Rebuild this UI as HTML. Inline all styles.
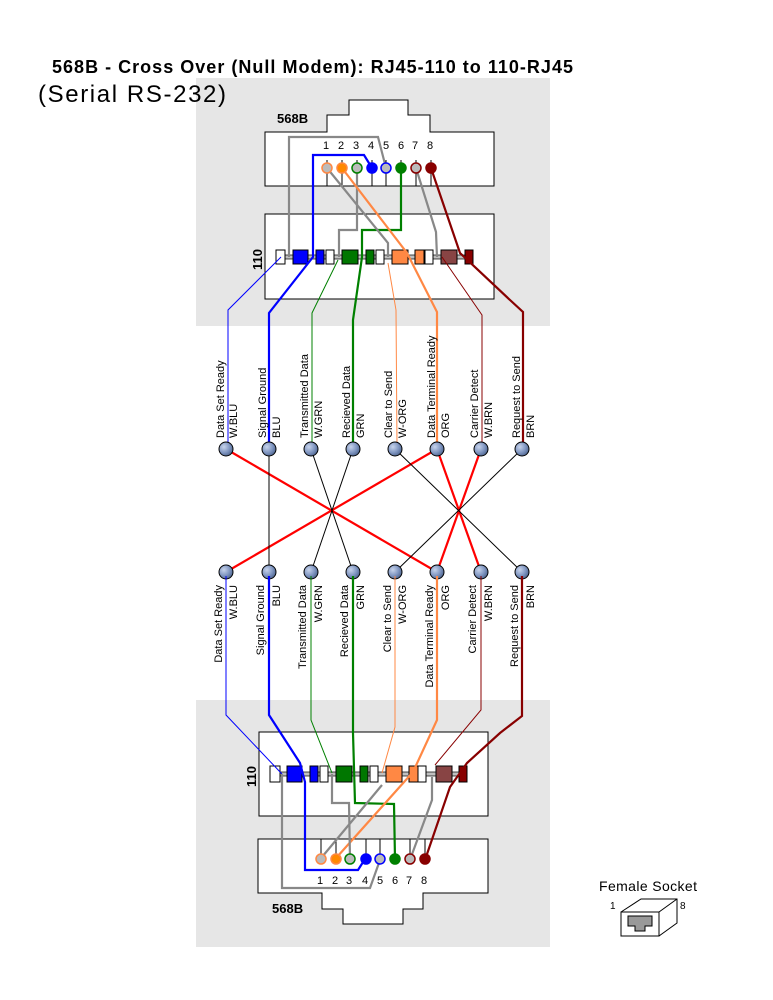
<!DOCTYPE html>
<html><head><meta charset="utf-8"><style>
html,body{margin:0;padding:0;background:#fff;}
svg{display:block;font-family:"Liberation Sans",Arial,sans-serif;}
</style></head><body>
<svg width="773" height="1000" viewBox="0 0 773 1000" xmlns="http://www.w3.org/2000/svg">
<defs>
<radialGradient id="ng" cx="0.35" cy="0.35" r="0.7">
<stop offset="0" stop-color="#c8d4ec"/><stop offset="0.6" stop-color="#7f95c0"/><stop offset="1" stop-color="#4f6690"/>
</radialGradient>
</defs>
<rect x="196" y="78" width="354" height="248" fill="#e6e6e6"/>
<rect x="196" y="700" width="354" height="247" fill="#e6e6e6"/>
<text x="52" y="73" font-size="18" font-weight="bold" textLength="521" lengthAdjust="spacing">568B - Cross Over (Null Modem): RJ45-110 to 110-RJ45</text>
<text x="38" y="102" font-size="24" textLength="188" lengthAdjust="spacing">(Serial RS-232)</text>

<!-- TOP RJ45 -->
<path d="M265,186 L265,132 L327,132 L327,115 L349,115 L349,100 L408,100 L408,115 L430,115 L430,132 L494,132 L494,186 Z" fill="#fff" stroke="#000"/>
<text x="277" y="123" font-size="13" font-weight="bold">568B</text>
<g font-size="11" text-anchor="middle">
<text x="326" y="149">1</text><text x="341" y="149">2</text><text x="356" y="149">3</text><text x="371" y="149">4</text><text x="386" y="149">5</text><text x="401" y="149">6</text><text x="415" y="149">7</text><text x="430" y="149">8</text>
</g>
<g stroke="#000" stroke-width="1">
<line x1="327" y1="160" x2="327" y2="186"/><line x1="342" y1="160" x2="342" y2="186"/><line x1="357" y1="160" x2="357" y2="186"/><line x1="372" y1="160" x2="372" y2="186"/><line x1="386" y1="160" x2="386" y2="186"/><line x1="401" y1="160" x2="401" y2="186"/><line x1="416" y1="160" x2="416" y2="186"/><line x1="431" y1="160" x2="431" y2="186"/>
</g>
<!-- TOP 110 -->
<rect x="265" y="214" width="229" height="85" fill="#fff" stroke="#000"/>
<text transform="translate(262,270) rotate(-90)" font-size="13" font-weight="bold">110</text>
<rect x="276" y="255" width="197" height="4" fill="#c0c0c0" stroke="#000" stroke-width="0.7"/>
<g stroke="#000" stroke-width="1">
<rect x="276" y="250" width="9" height="14" fill="#fff"/>
<rect x="293" y="250" width="15" height="14" fill="#0000ff"/>
<rect x="316" y="250" width="8" height="14" fill="#0000ff"/>
<rect x="326" y="250" width="8" height="14" fill="#fff"/>
<rect x="342" y="250" width="16" height="14" fill="#007700"/>
<rect x="366" y="250" width="8" height="14" fill="#007700"/>
<rect x="376" y="250" width="8" height="14" fill="#fff"/>
<rect x="392" y="250" width="16" height="14" fill="#ff8844"/>
<rect x="415" y="250" width="9" height="14" fill="#ff8844"/>
<rect x="425" y="250" width="8" height="14" fill="#fff"/>
<rect x="441" y="250" width="16" height="14" fill="#884444"/>
<rect x="465" y="250" width="8" height="14" fill="#880000"/>
</g>
<!-- top wires -->
<g fill="none" stroke-width="2.2">
<polyline points="386,168 378,137 289,137 289,257" stroke="#888"/>
<polyline points="372,168 364,155 313,155 313,257 269,313 269,445" stroke="#0000ff"/>
<polyline points="357,168 357,230 339,230 339,257" stroke="#888"/>
<polyline points="401,168 401,230 362,230 362,257 353,320 353,445" stroke="#008000"/>
<polyline points="327,168 388,243 388,257" stroke="#888"/>
<polyline points="342,168 407,253 437,312 437,445" stroke="#ff8844"/>
<polyline points="416,168 436,232 437,257" stroke="#888"/>
<polyline points="431,168 460,253 510,300 523,312 523,445" stroke="#880000"/>
</g>
<g fill="none" stroke-width="1">
<polyline points="281,257 228,310 228,445" stroke="#0000ff"/>
<polyline points="338,260 312,313 312,445" stroke="#008000"/>
<polyline points="388,263 396,310 397,445" stroke="#ff8844"/>
<polyline points="442,257 482,315 482,445" stroke="#880000"/>
</g>
<g fill="#fff" stroke-width="1.5">
<circle cx="327" cy="168" r="5" fill="#bbb" stroke="#ff8844"/>
<circle cx="342" cy="168" r="5" fill="#ff8800" stroke="#ff8844"/>
<circle cx="357" cy="168" r="5" fill="#bbb" stroke="#008000"/>
<circle cx="372" cy="168" r="5" fill="#0000ff" stroke="#0000ff"/>
<circle cx="386" cy="168" r="5" fill="#bbb" stroke="#0000ff"/>
<circle cx="401" cy="168" r="5" fill="#008000" stroke="#008000"/>
<circle cx="416" cy="168" r="5" fill="#bbb" stroke="#880000"/>
<circle cx="431" cy="168" r="5" fill="#880000" stroke="#880000"/>
</g>

<!-- crossings -->
<g stroke="#ff0000" stroke-width="2.2">
<line x1="226" y1="449" x2="437" y2="572"/>
<line x1="437" y1="449" x2="226" y2="572"/>
<line x1="437" y1="449" x2="481" y2="572"/>
<line x1="481" y1="449" x2="437" y2="572"/>
</g>
<g stroke="#000" stroke-width="1">
<line x1="269" y1="449" x2="269" y2="572"/>
<line x1="311" y1="449" x2="353" y2="572"/>
<line x1="353" y1="449" x2="311" y2="572"/>
<line x1="395" y1="449" x2="522" y2="572"/>
<line x1="522" y1="449" x2="395" y2="572"/>
</g>
<g fill="url(#ng)" stroke="#000" stroke-width="1">
<circle cx="226" cy="449" r="7"/><circle cx="269" cy="449" r="7"/><circle cx="311" cy="449" r="7"/><circle cx="353" cy="449" r="7"/><circle cx="395" cy="449" r="7"/><circle cx="437" cy="449" r="7"/><circle cx="481" cy="449" r="7"/><circle cx="522" cy="449" r="7"/>
<circle cx="226" cy="572" r="7"/><circle cx="269" cy="572" r="7"/><circle cx="311" cy="572" r="7"/><circle cx="353" cy="572" r="7"/><circle cx="395" cy="572" r="7"/><circle cx="437" cy="572" r="7"/><circle cx="481" cy="572" r="7"/><circle cx="522" cy="572" r="7"/>
</g>

<!-- top labels -->
<g font-size="11">
<g transform="translate(224,438) rotate(-90)"><text>Data Set Ready</text></g>
<g transform="translate(237,438) rotate(-90)"><text>W.BLU</text></g>
<g transform="translate(266,438) rotate(-90)"><text>Signal Ground</text></g>
<g transform="translate(280,438) rotate(-90)"><text>BLU</text></g>
<g transform="translate(308,438) rotate(-90)"><text>Transmitted Data</text></g>
<g transform="translate(322,438) rotate(-90)"><text>W.GRN</text></g>
<g transform="translate(350,438) rotate(-90)"><text>Recieved Data</text></g>
<g transform="translate(364,438) rotate(-90)"><text>GRN</text></g>
<g transform="translate(392,438) rotate(-90)"><text>Clear to Send</text></g>
<g transform="translate(406,438) rotate(-90)"><text>W-ORG</text></g>
<g transform="translate(435,438) rotate(-90)"><text>Data Terminal Ready</text></g>
<g transform="translate(449,438) rotate(-90)"><text>ORG</text></g>
<g transform="translate(478,438) rotate(-90)"><text>Carrier Detect</text></g>
<g transform="translate(492,438) rotate(-90)"><text>W.BRN</text></g>
<g transform="translate(520,438) rotate(-90)"><text>Request to Send</text></g>
<g transform="translate(534,438) rotate(-90)"><text>BRN</text></g>
</g>
<!-- bottom labels -->
<g font-size="11" text-anchor="end">
<g transform="translate(222,585) rotate(-90)"><text>Data Set Ready</text></g>
<g transform="translate(237,585) rotate(-90)"><text>W.BLU</text></g>
<g transform="translate(264,585) rotate(-90)"><text>Signal Ground</text></g>
<g transform="translate(280,585) rotate(-90)"><text>BLU</text></g>
<g transform="translate(306,585) rotate(-90)"><text>Transmitted Data</text></g>
<g transform="translate(322,585) rotate(-90)"><text>W.GRN</text></g>
<g transform="translate(348,585) rotate(-90)"><text>Recieved Data</text></g>
<g transform="translate(364,585) rotate(-90)"><text>GRN</text></g>
<g transform="translate(391,585) rotate(-90)"><text>Clear to Send</text></g>
<g transform="translate(406,585) rotate(-90)"><text>W-ORG</text></g>
<g transform="translate(433,585) rotate(-90)"><text>Data Terminal Ready</text></g>
<g transform="translate(449,585) rotate(-90)"><text>ORG</text></g>
<g transform="translate(476,585) rotate(-90)"><text>Carrier Detect</text></g>
<g transform="translate(492,585) rotate(-90)"><text>W.BRN</text></g>
<g transform="translate(518,585) rotate(-90)"><text>Request to Send</text></g>
<g transform="translate(534,585) rotate(-90)"><text>BRN</text></g>
</g>

<!-- BOTTOM 110 -->
<rect x="259" y="732" width="229" height="84" fill="#fff" stroke="#000"/>
<text transform="translate(256,787) rotate(-90)" font-size="13" font-weight="bold">110</text>
<rect x="270" y="772" width="197" height="4" fill="#c0c0c0" stroke="#000" stroke-width="0.7"/>
<g stroke="#000" stroke-width="1">
<rect x="270" y="766" width="10" height="16" fill="#fff"/>
<rect x="287" y="766" width="15" height="16" fill="#0000ff"/>
<rect x="310" y="766" width="8" height="16" fill="#0000ff"/>
<rect x="320" y="766" width="8" height="16" fill="#fff"/>
<rect x="336" y="766" width="16" height="16" fill="#007700"/>
<rect x="360" y="766" width="8" height="16" fill="#007700"/>
<rect x="370" y="766" width="8" height="16" fill="#fff"/>
<rect x="386" y="766" width="16" height="16" fill="#ff8844"/>
<rect x="409" y="766" width="9" height="16" fill="#ff8844"/>
<rect x="418" y="766" width="8" height="16" fill="#fff"/>
<rect x="436" y="766" width="16" height="16" fill="#884444"/>
<rect x="459" y="766" width="8" height="16" fill="#880000"/>
</g>
<!-- BOTTOM RJ45 -->
<path d="M258,839 L488,839 L488,893 L423,893 L423,909 L403,909 L403,924 L343,924 L343,909 L322,909 L322,893 L258,893 Z" fill="#fff" stroke="#000"/>
<text x="272" y="913" font-size="13" font-weight="bold">568B</text>
<g font-size="11" text-anchor="middle">
<text x="320" y="884">1</text><text x="335" y="884">2</text><text x="349" y="884">3</text><text x="365" y="884">4</text><text x="380" y="884">5</text><text x="395" y="884">6</text><text x="409" y="884">7</text><text x="424" y="884">8</text>
</g>
<g stroke="#000" stroke-width="1">
<line x1="321" y1="839" x2="321" y2="859"/><line x1="336" y1="839" x2="336" y2="859"/><line x1="350" y1="839" x2="350" y2="859"/><line x1="366" y1="839" x2="366" y2="859"/><line x1="380" y1="839" x2="380" y2="859"/><line x1="395" y1="839" x2="395" y2="859"/><line x1="410" y1="839" x2="410" y2="859"/><line x1="425" y1="839" x2="425" y2="859"/>
</g>
<!-- bottom wires -->
<g fill="none" stroke-width="1">
<polyline points="226,576 226,715 282,774" stroke="#0000ff"/>
<polyline points="311,576 311,720 332,773" stroke="#008000"/>
<polyline points="395,576 395,727 382,773" stroke="#ff8844"/>
<polyline points="481,576 481,710 435,765" stroke="#880000"/>
</g>
<g fill="none" stroke-width="2.2">
<polyline points="269,576 269,715 300,763 305,782 305,870 358,870 365,859" stroke="#0000ff"/>
<polyline points="353,576 353,733 355,803 394,804 395,859" stroke="#008000"/>
<polyline points="437,576 437,720 413,772 337,857" stroke="#ff8844"/>
<polyline points="522,576 522,716 500,733 467,763 450,787 426,857" stroke="#880000"/>
<polyline points="282,774 282,888 370,888 380,860" stroke="#888"/>
<polyline points="332,774 332,803 349,803 350,859" stroke="#888"/>
<polyline points="382,785 322,857" stroke="#888"/>
<polyline points="432,777 432,800 411,857" stroke="#888"/>
</g>
<g stroke-width="1.5">
<circle cx="321" cy="859" r="5" fill="#bbb" stroke="#ff8844"/>
<circle cx="336" cy="859" r="5" fill="#ff8800" stroke="#ff8844"/>
<circle cx="350" cy="859" r="5" fill="#bbb" stroke="#008000"/>
<circle cx="366" cy="859" r="5" fill="#0000ff" stroke="#0000ff"/>
<circle cx="380" cy="859" r="5" fill="#bbb" stroke="#0000ff"/>
<circle cx="395" cy="859" r="5" fill="#008000" stroke="#008000"/>
<circle cx="410" cy="859" r="5" fill="#bbb" stroke="#880000"/>
<circle cx="425" cy="859" r="5" fill="#880000" stroke="#880000"/>
</g>

<!-- female socket -->
<text x="599" y="891" font-size="14" textLength="98" lengthAdjust="spacing">Female Socket</text>
<text x="610" y="909" font-size="10">1</text>
<text x="680" y="909" font-size="10">8</text>
<g fill="#fff" stroke="#000" stroke-width="1">
<path d="M621,912 L641,899 L677,899 L677,923 L659,936"/>
<line x1="659" y1="912" x2="677" y2="899"/>
<rect x="621" y="912" width="38" height="24"/>
<path d="M628,916 L652,916 L652,926 L645,926 L645,931 L635,931 L635,926 L628,926 Z" fill="#999"/>
</g>
</svg>
</body></html>
